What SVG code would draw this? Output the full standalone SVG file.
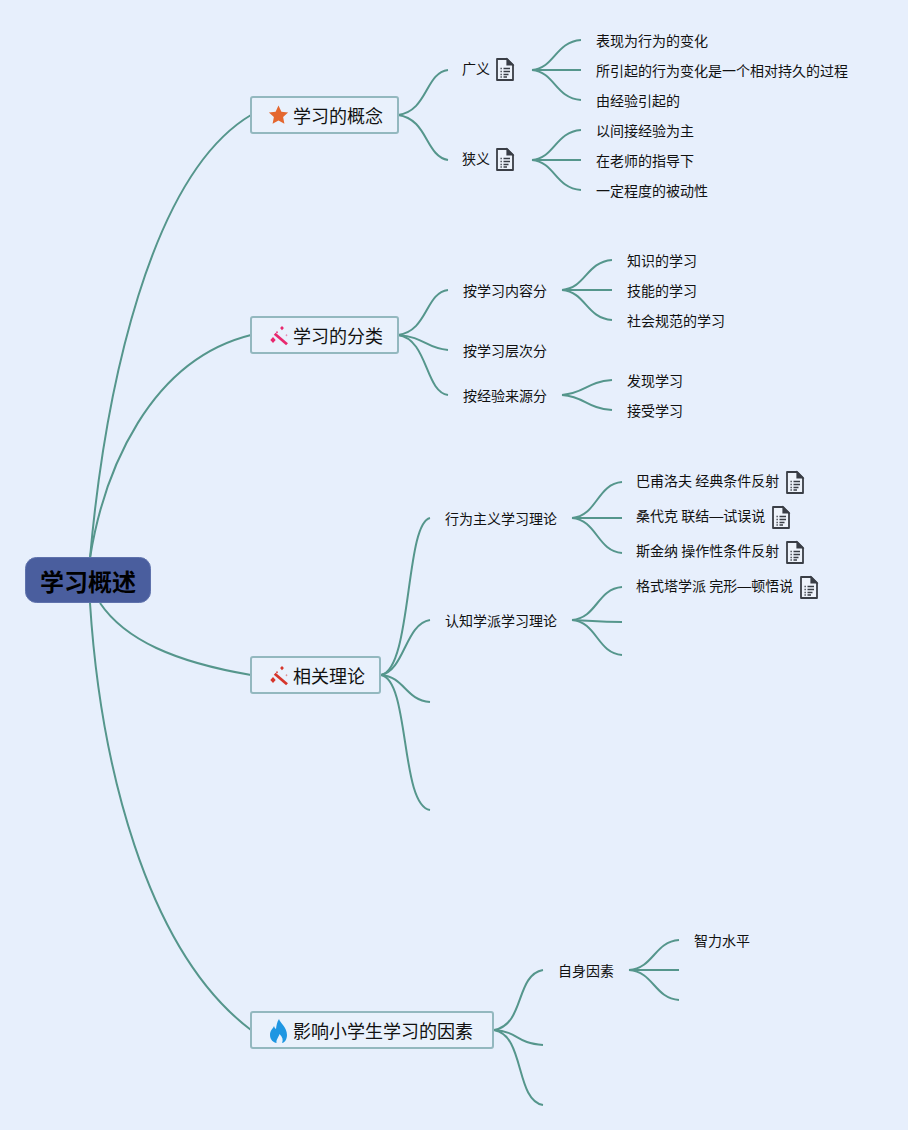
<svg xmlns="http://www.w3.org/2000/svg" width="908" height="1130" viewBox="0 0 908 1130">
<style>
text{font-family:"Noto Sans CJK SC","Noto Sans",sans-serif;fill:#111}
.t{font-size:18px}
.s{font-size:14px}
.d{font-family:"Liberation Sans",sans-serif}
.b{fill:#e9f1fc;stroke:#93b8bf;stroke-width:2}
#connectors path{fill:none;stroke:#55968c;stroke-width:2;stroke-linecap:butt}
</style>
<defs>
<g id="doc">
<path d="M1 1H11L17 7V22H1Z" fill="#eef3fb" stroke="#3a3e46" stroke-width="1.8" stroke-linejoin="round"/>
<path d="M11 1V7H17Z" fill="#3a3e46" stroke="#3a3e46" stroke-width="1.2"/>
<path d="M4.500 10.500H5.800M7.500 10.500H14M4.500 13.500H5.800M7.500 13.500H14M4.500 16.500H5.800M7.500 16.500H12.500M4.500 19H5.800M7.500 19H11" stroke="#3a3e46" stroke-width="1.500" fill="none"/>
</g>
<g id="wand">
<path d="M5.700 7.700L18 18.300" stroke="currentColor" stroke-width="2.800" fill="none"/>
<path d="M13 0l1.900 2.100-1.900 2.100-1.900-2.100zM4 11l2.700 3-2.700 3-2.700-3zM8 5l1 1.200-1 1.200-1-1.200z" fill="currentColor"/>
<path d="M17.500 8l1 1.200-1 1.200-1-1.200z" fill="currentColor" opacity=".5"/>
</g>
</defs>
<rect width="908" height="1130" fill="#e7effc"/>
<g id="connectors">
<path d="M90 558C105 390 150 175 251 115"/>
<path d="M90 558C104 470 150 360 251 335"/>
<path d="M100 603C125 640 175 662 251 675"/>
<path d="M90 603C100 760 145 950 251 1030"/>
<path d="M398 115C428 111 425 73 448 70"/>
<path d="M398 115C428 119 425 156 448 160"/>
<path d="M532 70C555 68 555 42 581 40"/>
<path d="M532 70H581"/>
<path d="M532 70C555 72 555 98 581 100"/>
<path d="M532 160C555 158 555 132 581 130"/>
<path d="M532 160H581"/>
<path d="M532 160C555 162 555 188 581 190"/>
<path d="M398 335C428 331 425 293 448 290"/>
<path d="M398 335C425 337 425 348 448 350"/>
<path d="M398 335C428 339 425 392 448 395"/>
<path d="M562 290C586 288 586 262 612 260"/>
<path d="M562 290H612"/>
<path d="M562 290C586 292 586 318 612 320"/>
<path d="M562 395C586 393 586 382 612 380"/>
<path d="M562 395C586 397 586 408 612 410"/>
<path d="M381 675C412 670 405 523 430 518"/>
<path d="M381 675C405 670 405 624 430 620"/>
<path d="M381 675C405 677 405 700 430 702"/>
<path d="M381 675C410 680 400 805 430 810"/>
<path d="M572 518C597 516 597 484 622 482"/>
<path d="M572 518H622"/>
<path d="M572 518C597 520 597 551 622 553"/>
<path d="M572 620C597 618 597 589 622 587"/>
<path d="M572 620C597 621 597 622 622 622"/>
<path d="M572 620C597 622 597 653 622 655"/>
<path d="M494 1030C525 1025 515 975 543 970"/>
<path d="M494 1030C520 1032 515 1043 543 1045"/>
<path d="M494 1030C525 1035 515 1100 543 1105"/>
<path d="M629 970C654 968 654 942 679 940"/>
<path d="M629 970H679"/>
<path d="M629 970C654 972 654 998 679 1000"/>
</g>
<g id="root"><rect x="25.500" y="557.500" width="125" height="45" rx="11" fill="#4a5e9e" stroke="#5f72ac"/><text x="88" y="591" text-anchor="middle" font-size="24" font-weight="700" style="fill:#000">学习概述</text></g>
<g id="n1"><rect class="b" x="251" y="97" width="147" height="36" rx="2"/><path d="M278.500 105.500l2.900 6.200 6.700.8-5 4.600 1.300 6.700-5.900-3.300-5.900 3.300 1.300-6.700-5-4.600 6.700-.8z" fill="#e4672f"/><text class="t" x="293" y="123">学习的概念</text></g>
<g id="n2"><rect class="b" x="251" y="317" width="147" height="36" rx="2"/><use href="#wand" x="269" y="326" color="#e8286e"/><text class="t" x="293" y="343">学习的分类</text></g>
<g id="n3"><rect class="b" x="251" y="657" width="129" height="36" rx="2"/><use href="#wand" x="269" y="666" color="#d6352b"/><text class="t" x="293" y="683">相关理论</text></g>
<g id="n4"><rect class="b" x="251" y="1012" width="242" height="36" rx="2"/><path d="M279 1019c1 4 8 8 8 16 0 5-3 8-5 8 1.500-3 .5-6-2.500-9-.5 3-3.500 5-3 9-3-.5-6.500-3-6.500-8 0-5 3-6 4-9 .5 1.500 1 2.500 2 3 .5-4 1-7 3-10z" fill="#1e96e2"/><text class="t" x="293" y="1038">影响小学生学习的因素</text></g>
<g id="a1"><text class="s" x="462" y="74">广义</text><use href="#doc" x="496" y="58"/></g>
<g id="a2"><text class="s" x="462" y="164">狭义</text><use href="#doc" x="496" y="148"/></g>
<g id="a11"><text class="s" x="596" y="46">表现为行为的变化</text></g>
<g id="a12"><text class="s" x="596" y="76">所引起的行为变化是一个相对持久的过程</text></g>
<g id="a13"><text class="s" x="596" y="106">由经验引起的</text></g>
<g id="a21"><text class="s" x="596" y="136">以间接经验为主</text></g>
<g id="a22"><text class="s" x="596" y="166">在老师的指导下</text></g>
<g id="a23"><text class="s" x="596" y="196">一定程度的被动性</text></g>
<g id="b1"><text class="s" x="463" y="296">按学习内容分</text></g>
<g id="b2"><text class="s" x="463" y="356">按学习层次分</text></g>
<g id="b3"><text class="s" x="463" y="401">按经验来源分</text></g>
<g id="b11"><text class="s" x="627" y="266">知识的学习</text></g>
<g id="b12"><text class="s" x="627" y="296">技能的学习</text></g>
<g id="b13"><text class="s" x="627" y="326">社会规范的学习</text></g>
<g id="b31"><text class="s" x="627" y="386">发现学习</text></g>
<g id="b32"><text class="s" x="627" y="416">接受学习</text></g>
<g id="c1"><text class="s" x="445" y="524">行为主义学习理论</text></g>
<g id="c2"><text class="s" x="445" y="626">认知学派学习理论</text></g>
<g id="c11"><text class="s" x="636" y="486">巴甫洛夫 经典条件反射</text><use href="#doc" x="786" y="471"/></g>
<g id="c12"><text class="s" x="636" y="521">桑代克 联结<tspan class="d">—</tspan>试误说</text><use href="#doc" x="772" y="506"/></g>
<g id="c13"><text class="s" x="636" y="556">斯金纳 操作性条件反射</text><use href="#doc" x="786" y="541"/></g>
<g id="c21"><text class="s" x="636" y="591">格式塔学派 完形<tspan class="d">—</tspan>顿悟说</text><use href="#doc" x="800" y="576"/></g>
<g id="d1"><text class="s" x="558" y="976">自身因素</text></g>
<g id="d11"><text class="s" x="694" y="946">智力水平</text></g>
</svg>
